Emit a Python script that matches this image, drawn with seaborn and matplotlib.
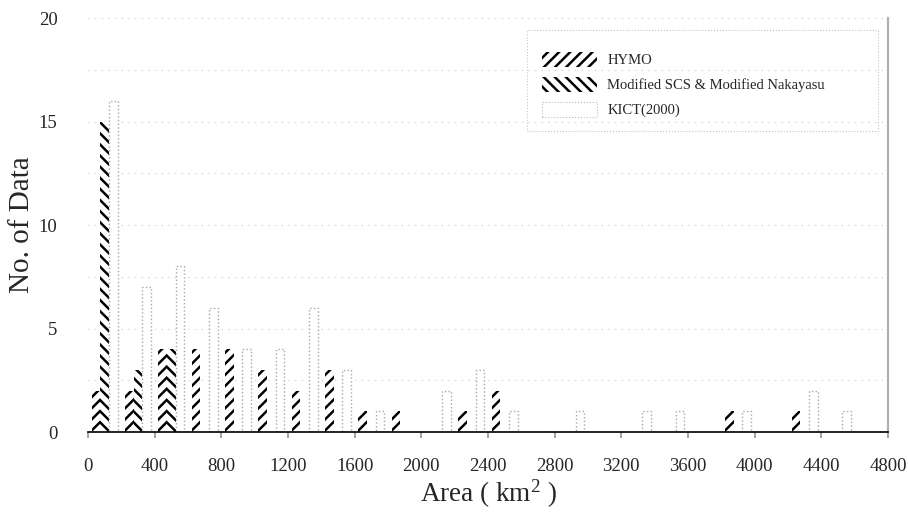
import matplotlib
matplotlib.use("Agg")
import numpy as np
import pandas as pd
import seaborn as sns
import matplotlib.pyplot as plt
from matplotlib.patches import Patch, Rectangle

# ---- data (bins of 200 km^2, centres) ----
bin_centers = list(range(100, 4800, 200))
hymo = [2, 2, 4, 4, 4, 3, 2, 3, 1, 1, 0, 1, 2, 0, 0, 0, 0, 0, 0, 1, 0, 1, 0, 0]
scs = [15, 3, 4, 0, 0, 0, 0, 0, 0, 0, 0, 0, 0, 0, 0, 0, 0, 0, 0, 0, 0, 0, 0, 0]
kict = [16, 7, 8, 6, 4, 4, 6, 3, 1, 0, 2, 3, 1, 0, 1, 0, 1, 1, 0, 1, 0, 2, 1, 0]
methods = ["HYMO", "Modified SCS & Modified Nakayasu", "KICT(2000)"]
x_ticks = list(range(0, 4801, 400))
y_ticks = [0, 5, 10, 15, 20]

df = pd.DataFrame({
    "area": bin_centers * 3,
    "count": hymo + scs + kict,
    "method": np.repeat(methods, len(bin_centers)),
})

sns.set_theme(style="white")
plt.rcParams["font.family"] = ["Liberation Serif", "DejaVu Serif"]
plt.rcParams["mathtext.default"] = "regular"
plt.rcParams["hatch.linewidth"] = 1.8

fig = plt.figure(figsize=(9.08, 5.15), dpi=100)
ax = fig.add_axes([0.0969, 0.161, 0.881, 0.804])

sns.barplot(data=df, x="area", y="count", hue="method", hue_order=methods,
            native_scale=True, width=0.78, errorbar=None, legend=False, ax=ax)

styles = [
    dict(hatch="///", ec="black", lw=0.0, ls="-"),
    dict(hatch="\\\\\\", ec="black", lw=0.0, ls="-"),
    dict(hatch=None, ec="#a8a8a8", lw=1.0, ls=":"),
]
for cont, st in zip(ax.containers, styles):
    for p in cont:
        p.set_facecolor("white")
        p.set_edgecolor(st["ec"])
        p.set_hatch(st["hatch"])
        p.set_linewidth(st["lw"])
        p.set_linestyle(st["ls"])

ax.set_xlim(0, 4800)
ax.set_ylim(0, 20)
ax.set_xticks(x_ticks)
ax.set_xticklabels([str(t) for t in x_ticks])
ax.set_yticks(y_ticks)
ax.set_yticklabels([str(t) for t in y_ticks])
ax.set_yticks(np.arange(0, 20.01, 2.5), minor=True)
ax.grid(axis="y", which="both", color="#c8c8c8", linestyle=(0, (1, 5)), linewidth=0.8)
ax.set_axisbelow(True)

for s in ["left", "top"]:
    ax.spines[s].set_visible(False)
ax.spines["bottom"].set_color("black")
ax.spines["bottom"].set_linewidth(1.2)
ax.spines["right"].set_color("#b0b0b0")
ax.spines["right"].set_linewidth(1.6)

ax.tick_params(axis="x", which="major", direction="out", length=4, color="#999999",
               labelsize=13.5, pad=15, bottom=True)
ax.tick_params(axis="y", which="both", length=0, labelsize=13.5, pad=22)
ax.tick_params(axis="y", which="minor", left=False)

ax.set_xlabel("Area ( km$^2$ )", fontsize=19.5)
ax.xaxis.set_label_coords(0.5, -0.11)
ax.set_ylabel("No. of Data", fontsize=21)
ax.yaxis.set_label_coords(-0.066, 0.5)

handles = [
    Patch(facecolor="white", edgecolor="black", hatch="///", linewidth=0),
    Patch(facecolor="white", edgecolor="black", hatch="\\\\\\", linewidth=0),
    Patch(facecolor="white", edgecolor="#bbbbbb", linestyle=":", linewidth=0.8),
]
leg = ax.legend(handles, methods, loc="upper left", bbox_to_anchor=(0.549, 0.953),
                fontsize=10.5, handlelength=3.8, handleheight=1.2, labelspacing=0.65,
                borderpad=0.5, frameon=False, handletextpad=0.7)

# faint dotted legend frame as in the scan
ax.add_patch(Rectangle((0.549, 0.727), 0.439, 0.245, transform=ax.transAxes,
                       facecolor="none", edgecolor="#c4c4c4", linestyle=":",
                       linewidth=0.8, zorder=0.5))

fig.savefig("out.png", dpi=100)
